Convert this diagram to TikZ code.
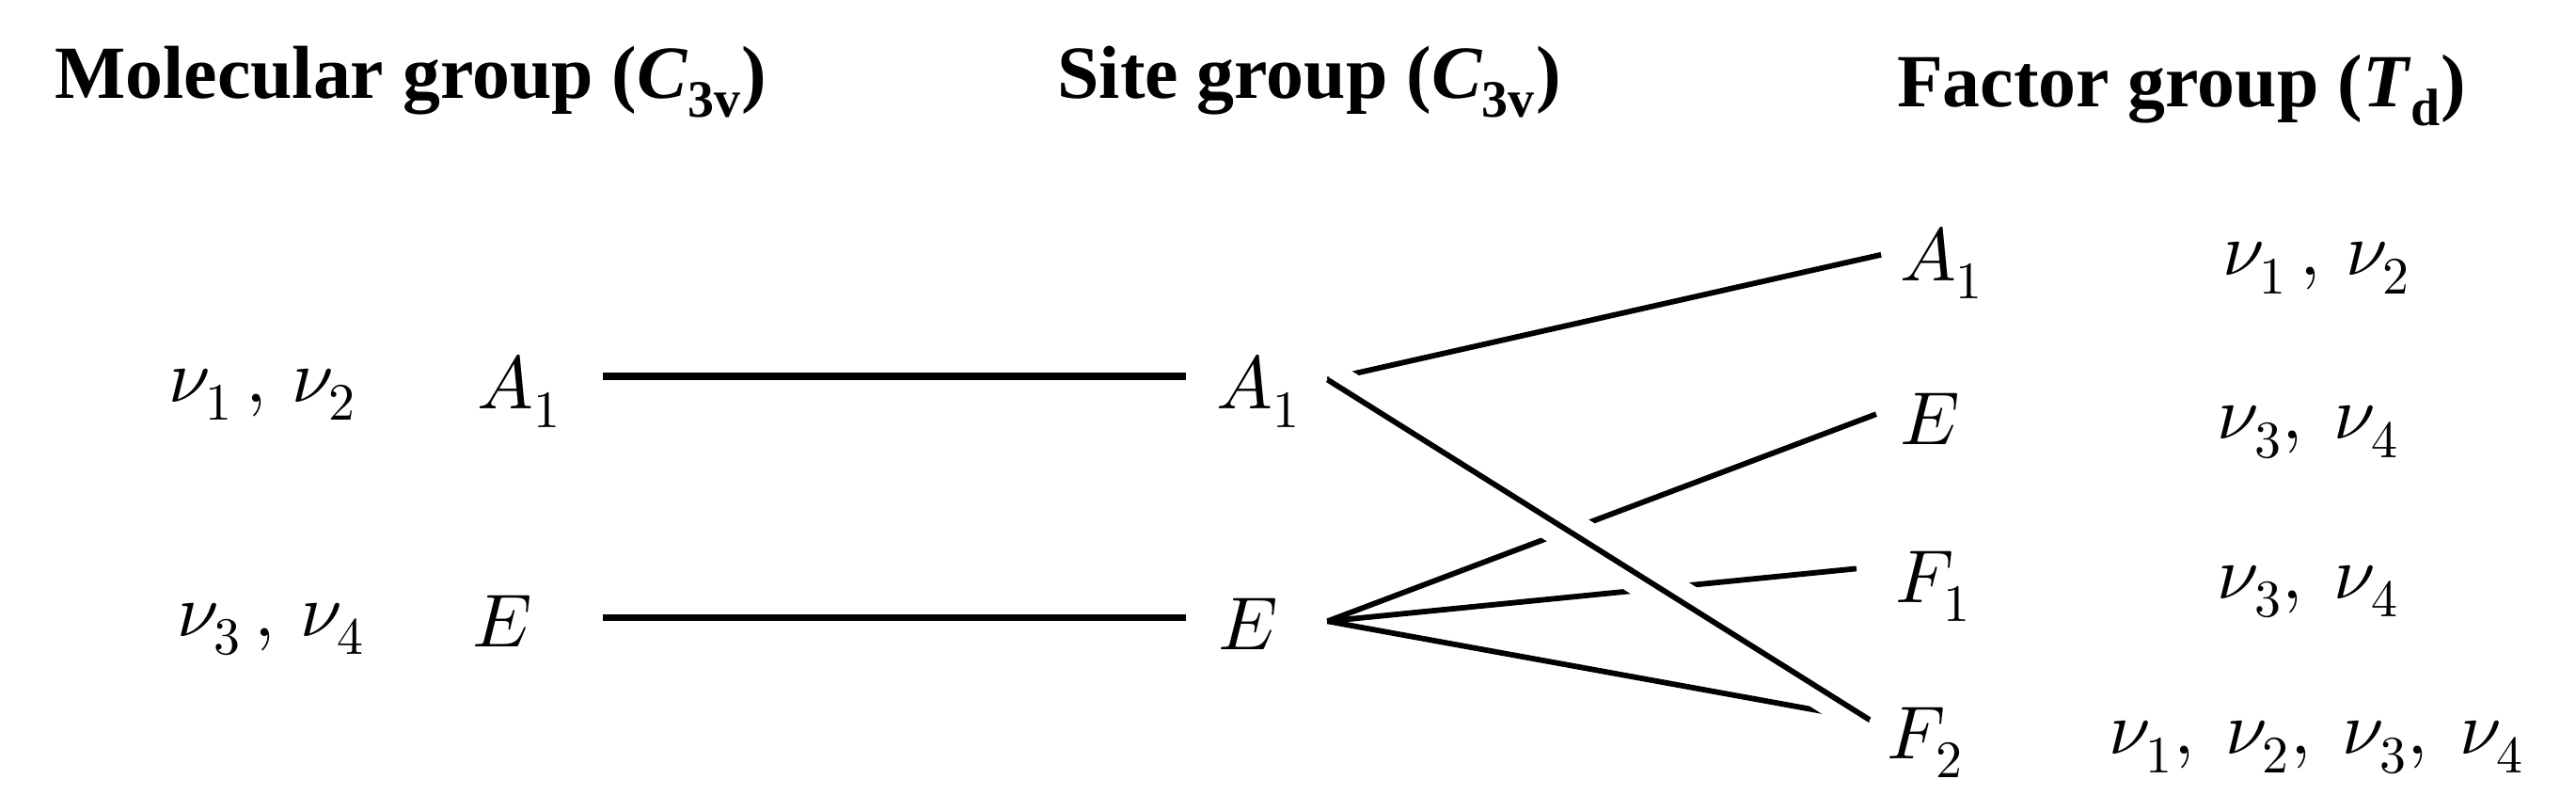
\documentclass[tikz,border=0pt]{standalone}
\usepackage{fontspec}
\setmainfont{Liberation Serif}
\usepackage{unicode-math}
\setmathfont{Latin Modern Math}
\begin{document}
\begin{tikzpicture}[x=0.02cm,y=-0.02cm,
  lbl/.style={inner sep=0pt,font=\fontsize{26}{30}\selectfont},
  hd/.style={inner sep=0pt,font=\fontsize{26}{30}\selectfont\bfseries},
  thick line/.style={line width=2.4pt},
  diag/.style={line width=1.9pt},
  gapped/.style={diag,preaction={draw=white,line width=14pt}}]
\useasboundingbox (0,0) rectangle (1568,493);
\node[hd] (h1) at (250,50) {Molecular group (\textit{C}$_{\mathbf{3v}}$)};
\node[hd] (h2) at (797,50) {Site group (\textit{C}$_{\mathbf{3v}}$)};
\node[hd] (h3) at (1328,55) {Factor group (\textit{T}$_{\mathbf{d}}$)};
\node[lbl] (m1) at (160,240) {$\nu_1\,,\,\nu_2$};
\node[lbl] (m2) at (165,383) {$\nu_3\,,\,\nu_4$};
\node[lbl] (ma) at (316,238) {$A_1$};
\node[lbl] (me) at (306,378) {$E$};
\node[lbl] (sa) at (766,238) {$A_1$};
\node[lbl] (se) at (760,380) {$E$};
\node[lbl] (fa) at (1182,160) {$A_1$};
\node[lbl] (fe) at (1175,255) {$E$};
\node[lbl] (f1) at (1177,357) {$F_1$};
\node[lbl] (f2) at (1172,452) {$F_2$};
\node[lbl] (r1) at (1410,163) {$\nu_1\,,\,\nu_2$};
\node[lbl] (r2) at (1405,263) {$\nu_3,\ \nu_4$};
\node[lbl] (r3) at (1405,360) {$\nu_3,\ \nu_4$};
\node[lbl] (r4) at (1410,455) {$\nu_1,\ \nu_2,\ \nu_3,\ \nu_4$};
\coordinate (la1) at (367,229); \coordinate (ra1) at (722,229);
\coordinate (le) at (367,376); \coordinate (re) at (722,376);
\coordinate (sao) at (808,231); \coordinate (seo) at (808,378);
\coordinate (ta) at (1145,155); \coordinate (te) at (1142,252);
\coordinate (tf1) at (1130,346); \coordinate (tf2) at (1138,438);
\draw[thick line] (la1) -- (ra1);
\draw[thick line] (le) -- (re);
\draw[diag] (sao) -- (ta);
\draw[diag] (seo) -- (te);
\draw[diag] (seo) -- (tf1);
\draw[diag] (seo) -- (tf2);
\draw[gapped] (sao) -- (tf2);
\end{tikzpicture}
\end{document}
